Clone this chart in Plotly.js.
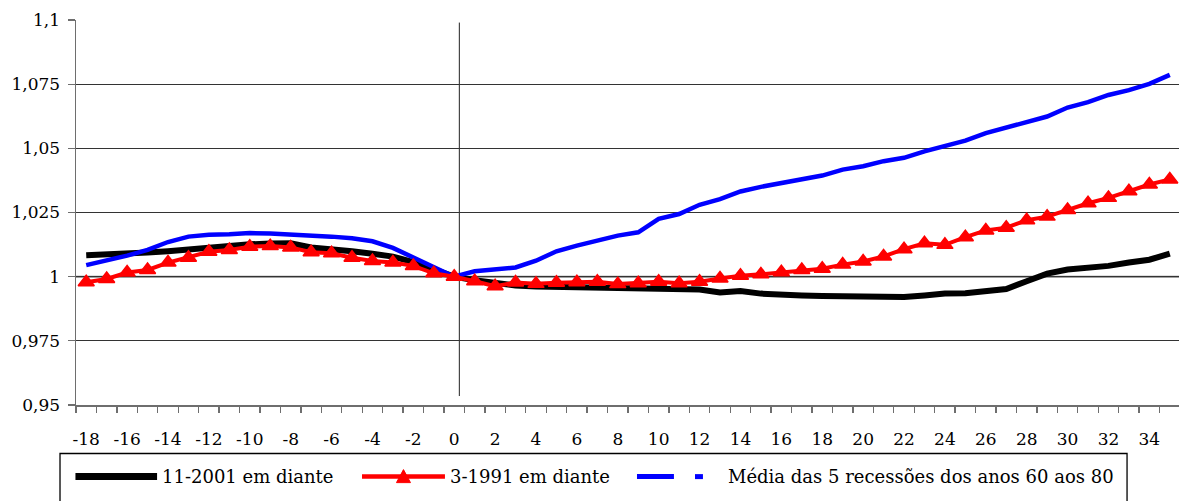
<!DOCTYPE html>
<html>
<head>
<meta charset="utf-8">
<script src="https://cdn.plot.ly/plotly-3.0.1.min.js"></script>
<style>
  html, body { margin: 0; padding: 0; background: #ffffff; }
  #chart { width: 1179px; height: 501px; }
</style>
</head>
<body>
<div id="chart"></div>
<script>
// ---- Data ----
const months = [-18, -17, -16, -15, -14, -13, -12, -11, -10, -9, -8, -7, -6, -5, -4, -3, -2, -1,
  0, 1, 2, 3, 4, 5, 6, 7, 8, 9, 10, 11, 12, 13, 14, 15, 16, 17, 18, 19, 20, 21, 22, 23, 24, 25, 26,
  27, 28, 29, 30, 31, 32, 33, 34, 35];

const series2001Name = "11-2001 em diante";
const series2001 = [1.0083, 1.0085, 1.0089, 1.0094, 1.0099, 1.0106, 1.0114, 1.0121, 1.0126, 1.0129,
  1.0130, 1.0114, 1.0108, 1.0099, 1.0089, 1.0078, 1.0057, 1.0030,
  1.0000, 0.9986, 0.9974, 0.9966, 0.9962, 0.9960, 0.9958, 0.9957, 0.9955, 0.9953, 0.9950, 0.9952,
  0.9950, 0.9938, 0.9944, 0.9934, 0.9929, 0.9927, 0.9925, 0.9923, 0.9921, 0.9918, 0.9921, 0.9927,
  0.9934, 0.9935, 0.9945, 0.9952, 0.9982, 1.0012, 1.0028, 1.0034, 1.0042, 1.0055, 1.0066, 1.0090];

const series1991Name = "3-1991 em diante";
const series1991 = [0.9978, 0.9991, 1.0016, 1.0026, 1.0055, 1.0074, 1.0097, 1.0104, 1.0117, 1.0119,
  1.0114, 1.0095, 1.0091, 1.0074, 1.0061, 1.0055, 1.0042, 1.0013,
  1.0000, 0.9982, 0.9963, 0.9977, 0.9972, 0.9976, 0.9978, 0.9980, 0.9971, 0.9974, 0.9980, 0.9974,
  0.9980, 0.9993, 1.0004, 1.0009, 1.0017, 1.0026, 1.0031, 1.0047, 1.0059, 1.0079, 1.0107, 1.0130,
  1.0124, 1.0154, 1.0180, 1.0191, 1.0220, 1.0234, 1.0260, 1.0286, 1.0307, 1.0333, 1.0359, 1.0379];

const seriesMediaName = "Média das 5 recessões dos anos 60 aos 80";
const seriesMedia = [1.0045, 1.0063, 1.0082, 1.0104, 1.0135, 1.0156, 1.0163, 1.0165, 1.0170, 1.0168,
  1.0165, 1.0160, 1.0156, 1.0150, 1.0138, 1.0112, 1.0076, 1.0040,
  1.0000, 1.0021, 1.0030, 1.0036, 1.0062, 1.0099, 1.0121, 1.0140, 1.0160, 1.0173, 1.0225, 1.0244,
  1.0280, 1.0302, 1.0332, 1.0350, 1.0364, 1.0378, 1.0394, 1.0417, 1.0430, 1.0450, 1.0463, 1.0488,
  1.0510, 1.0530, 1.0559, 1.0581, 1.0605, 1.0624, 1.0659, 1.0680, 1.0708, 1.0727, 1.0751, 1.0786];

const xTickVals = [-18, -16, -14, -12, -10, -8, -6, -4, -2, 0, 2, 4, 6, 8, 10, 12, 14, 16, 18, 20,
  22, 24, 26, 28, 30, 32, 34];
const xTickText = ["-18", "-16", "-14", "-12", "-10", "-8", "-6", "-4", "-2", "0", "2", "4", "6", "8",
  "10", "12", "14", "16", "18", "20", "22", "24", "26", "28", "30", "32", "34"];
const yTickVals = [0.95, 0.975, 1, 1.025, 1.05, 1.075, 1.1];
const yTickText = ["0,95", "0,975", "1", "1,025", "1,05", "1,075", "1,1"];

// ---- Styling ----
const FONT = "DejaVu Serif";
const FS = 17;
const LEG_FS = 18;
const AXIS_GRAY = "#6e6e6e";

const traces = [
  {
    x: months, y: series2001, name: series2001Name, type: "scatter", mode: "lines",
    line: { color: "#000000", width: 6 }, showlegend: false
  },
  {
    x: months, y: seriesMedia, name: seriesMediaName, type: "scatter", mode: "lines",
    line: { color: "#0000ff", width: 4.5 }, showlegend: false
  },
  {
    x: months, y: series1991, name: series1991Name, type: "scatter", mode: "lines+markers",
    line: { color: "#ff0000", width: 4 },
    marker: { symbol: "triangle-up", size: 14, color: "#ff0000", line: { color: "#ff0000", width: 1.5 } },
    showlegend: false
  }
];

// legend drawn by hand (paper coordinates)
const legY = -0.186;
const shapes = [
  // reference line at 1 (gray)
  { type: "line", xref: "paper", yref: "y", x0: 0, x1: 1, y0: 1, y1: 1,
    line: { color: "#808080", width: 2 }, layer: "below" },
  // vertical separator at start of recession
  { type: "line", xref: "x", yref: "y", x0: 0.25, x1: 0.25, y0: 0.9535, y1: 1.099,
    line: { color: "#222222", width: 1 }, layer: "below" },
  // legend box
  { type: "rect", xref: "paper", yref: "paper", x0: -0.0145, x1: 0.9529, y0: -0.126, y1: -0.30,
    line: { color: "#000000", width: 1.3 }, fillcolor: "rgba(0,0,0,0)" },
  // legend symbols
  { type: "line", xref: "paper", yref: "paper", x0: -0.0005, x1: 0.0735, y0: legY, y1: legY,
    line: { color: "#000000", width: 7 } },
  { type: "line", xref: "paper", yref: "paper", x0: 0.2593, x1: 0.3345, y0: legY, y1: legY,
    line: { color: "#ff0000", width: 4.5 } },
  { type: "path", xref: "paper", yref: "paper", xsizemode: "pixel", ysizemode: "pixel",
    xanchor: 0.2969, yanchor: legY, path: "M-7,-6 L7,-6 L0,7 Z",
    fillcolor: "#ff0000", line: { color: "#ff0000", width: 1 } },
  { type: "line", xref: "paper", yref: "paper", x0: 0.5086, x1: 0.5421, y0: legY, y1: legY,
    line: { color: "#0000ff", width: 5 } },
  { type: "line", xref: "paper", yref: "paper", x0: 0.5612, x1: 0.5684, y0: legY, y1: legY,
    line: { color: "#0000ff", width: 5 } }
];

const annotations = [
  { xref: "paper", yref: "paper", x: 0.0762, y: legY, text: series2001Name, showarrow: false,
    xanchor: "left", yanchor: "middle", font: { family: FONT, size: LEG_FS, color: "#000" } },
  { xref: "paper", yref: "paper", x: 0.3373, y: legY, text: series1991Name, showarrow: false,
    xanchor: "left", yanchor: "middle", font: { family: FONT, size: LEG_FS, color: "#000" } },
  { xref: "paper", yref: "paper", x: 0.5889, y: legY, text: seriesMediaName, showarrow: false,
    xanchor: "left", yanchor: "middle", font: { family: FONT, size: LEG_FS, color: "#000" } }
];

const layout = {
  width: 1179, height: 501,
  margin: { l: 76, r: 0, t: 20, b: 96, pad: 0 },
  paper_bgcolor: "#ffffff", plot_bgcolor: "#ffffff",
  font: { family: FONT, size: FS, color: "#000000" },
  showlegend: false,
  xaxis: {
    range: [-18.5, 35.45], tickmode: "array", tickvals: xTickVals, ticktext: xTickText,
    ticks: "", showgrid: false, zeroline: false, showline: true, linecolor: AXIS_GRAY, linewidth: 1.5,
    ticklabelstandoff: 18,
    minor: { tick0: 0.5, dtick: 1, ticks: "outside", ticklen: 6, tickcolor: AXIS_GRAY, tickwidth: 1.3, showgrid: false },
    tickfont: { family: FONT, size: FS, color: "#000" }, fixedrange: true
  },
  yaxis: {
    range: [0.95, 1.1], tickmode: "array", tickvals: yTickVals, ticktext: yTickText,
    ticks: "outside", ticklen: 7, tickcolor: AXIS_GRAY, tickwidth: 1.3,
    showgrid: true, gridcolor: "#333333", gridwidth: 1, zeroline: false,
    showline: true, linecolor: AXIS_GRAY, linewidth: 1.5, ticklabelstandoff: 4,
    tickfont: { family: FONT, size: FS, color: "#000" }, fixedrange: true
  },
  shapes: shapes,
  annotations: annotations
};

Plotly.newPlot("chart", traces, layout, { displayModeBar: false, staticPlot: true });
</script>
</body>
</html>
